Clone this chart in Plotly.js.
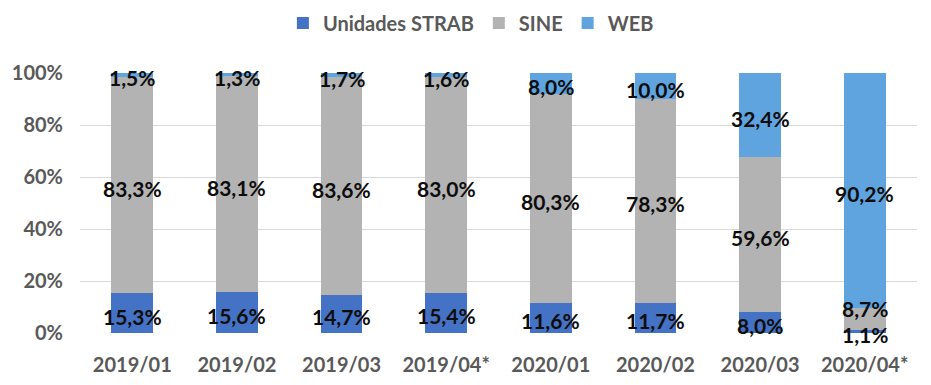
<!DOCTYPE html>
<html>
<head>
<meta charset="utf-8">
<script src="https://cdn.plot.ly/plotly-3.0.1.min.js"></script>
<style>html,body{margin:0;padding:0;background:#fff;}#chart{width:931px;height:385px;}</style>
</head>
<body>
<div id="chart"></div>
<script>
const categories = ['2019/01','2019/02','2019/03','2019/04*','2020/01','2020/02','2020/03','2020/04*'];
const strab = [15.3, 15.6, 14.7, 15.4, 11.6, 11.7, 8.0, 1.1];
const sine  = [83.3, 83.1, 83.6, 83.0, 80.3, 78.3, 59.6, 8.7];
const web   = [1.5, 1.3, 1.7, 1.6, 8.0, 10.0, 32.4, 90.2];
const seriesNames = ['Unidades STRAB', 'SINE', 'WEB'];
const yTickVals = [0, 20, 40, 60, 80, 100];
const yTickText = ['0%', '20%', '40%', '60%', '80%', '100%'];
const seriesColors = ['#4472C4', '#B3B3B3', '#5FA4DF'];

const FONT = 'Lato, "Open Sans", sans-serif';
const series = [strab, sine, web];
const fmt = v => v.toFixed(1).replace('.', ',') + '%';

// data labels: centre of each normalised segment, pushed apart if overlapping
const minGap = 10;
const annotations = [];
categories.forEach((c, i) => {
  const total = strab[i] + sine[i] + web[i];
  let base = 0, prev = -Infinity;
  series.forEach((s, k) => {
    const v = s[i] / total * 100;
    let y = base + v / 2;
    if (y - prev < minGap) y = prev + minGap;
    annotations.push({
      xref: 'x', yref: 'y', x: c, y: y, text: fmt(s[i]), showarrow: false,
      xanchor: 'center', yanchor: 'middle', yshift: -3,
      font: {family: FONT, size: 21, color: '#0d0d0d', weight: 'bold'}
    });
    prev = y;
    base += v;
  });
});

const traces = series.map((s, k) => ({
  type: 'bar', x: categories, y: s, name: seriesNames[k],
  marker: {color: seriesColors[k]}, hoverinfo: 'skip'
}));

const layout = {
  width: 931, height: 385,
  margin: {l: 80, r: 14, t: 73, b: 52},
  paper_bgcolor: '#fff', plot_bgcolor: '#fff',
  barmode: 'stack', barnorm: 'percent', bargap: 0.6,
  font: {family: FONT, color: '#595959'},
  showlegend: true,
  legend: {
    orientation: 'h', x: 0.467, xanchor: 'center', y: 0.94, yanchor: 'middle',
    yref: 'container', traceorder: 'normal',
    font: {family: FONT, size: 20, color: '#595959', weight: 'bold'},
    itemwidth: 30
  },
  annotations: annotations,
  xaxis: {
    type: 'category', showgrid: false, zeroline: false, showline: false,
    ticks: '', tickfont: {family: FONT, size: 20, color: '#595959', weight: 'bold'},
    ticklabelstandoff: 18, fixedrange: true
  },
  yaxis: {
    range: [0, 100], tickmode: 'array', tickvals: yTickVals, ticktext: yTickText,
    showgrid: true, gridcolor: '#D9D9D9', gridwidth: 1, zeroline: false, showline: false,
    tickfont: {family: FONT, size: 20, color: '#595959', weight: 'bold'},
    ticklabelstandoff: 16, fixedrange: true
  }
};

Plotly.newPlot('chart', traces, layout, {displayModeBar: false, staticPlot: true});
</script>
</body>
</html>
